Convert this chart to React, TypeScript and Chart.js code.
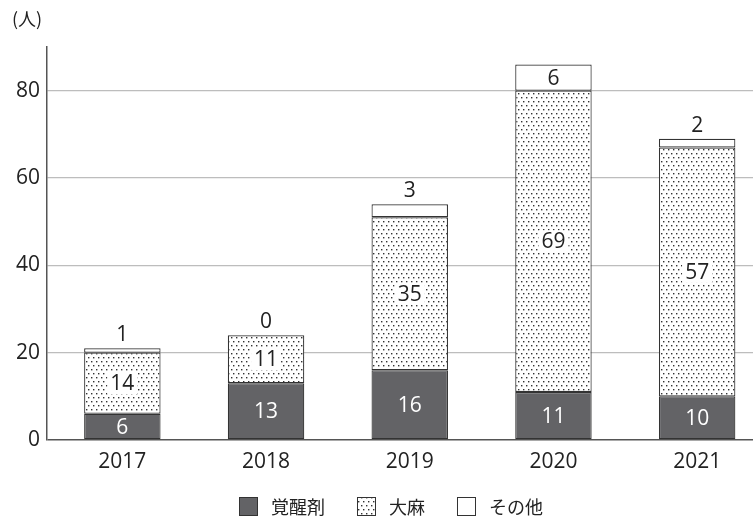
import React, { useEffect, useRef } from "react";
import { Chart, registerables } from "chart.js";

Chart.register(...registerables);

const FONT = "'Noto Sans CJK JP', 'Noto Sans', sans-serif";
const NUM_FONT = "'Open Sans', 'Noto Sans CJK JP', sans-serif";

const years = ["2017", "2018", "2019", "2020", "2021"];
const seriesNames = ["覚醒剤", "大麻", "その他"];
const stimulants = [6, 13, 16, 11, 10];
const cannabis = [14, 11, 35, 69, 57];
const others = [1, 0, 3, 6, 2];
const yTicks = [0, 20, 40, 60, 80];
const yMax = 90;
const unitLabel = "(人)";

function makeDotPattern(): CanvasPattern | string {
  const c = document.createElement("canvas");
  c.width = 10;
  c.height = 8;
  const g = c.getContext("2d");
  if (!g) return "#fff";
  g.fillStyle = "#ffffff";
  g.fillRect(0, 0, 10, 8);
  g.fillStyle = "#333333";
  const pts = [
    [1, 1],
    [6, 1],
    [3, 5],
    [8, 5],
  ];
  pts.forEach(([x, y]) => g.fillRect(x, y, 1.4, 1.4));
  const p = g.createPattern(c, "repeat");
  return p || "#fff";
}

export default function App() {
  const ref = useRef<HTMLCanvasElement | null>(null);

  useEffect(() => {
    const canvas = ref.current;
    if (!canvas) return;
    const dots = makeDotPattern();
    const fills: any[] = ["#636366", dots, "#ffffff"];

    const stretchPlugin = {
      id: "stretch",
      afterLayout(chart: any) {
        const xs = chart.scales.x;
        xs.left = xs.left + 3.5;
        xs.right = xs.left + 718.5;
        xs.width = xs.right - xs.left;
        xs.configure();
        chart.chartArea.right = xs.right;
        chart.chartArea.width = chart.chartArea.right - chart.chartArea.left;
      },
    };

    const labelPlugin = {
      id: "labels",
      afterDatasetsDraw(chart: any) {
        const ctx = chart.ctx;
        ctx.save();
        ctx.font = `21px ${NUM_FONT}`;
        ctx.textAlign = "center";
        ctx.textBaseline = "middle";
        const all = [stimulants, cannabis, others];
        all.forEach((arr, di) => {
          const meta = chart.getDatasetMeta(di);
          meta.data.forEach((bar: any, j: number) => {
            const v = arr[j];
            const txt = String(v);
            const top = Math.min(bar.y, bar.base);
            const h = Math.abs(bar.base - bar.y);
            const cy = top + h / 2;
            if (di === 0) {
              ctx.fillStyle = "#ffffff";
              ctx.fillText(txt, bar.x, cy + 1);
            } else if (di === 1) {
              const w = ctx.measureText(txt).width;
              ctx.fillStyle = "#ffffff";
              ctx.fillRect(bar.x - w / 2 - 3, cy - 11, w + 6, 22);
              ctx.fillStyle = "#222";
              ctx.fillText(txt, bar.x, cy + 1);
            } else {
              ctx.fillStyle = "#222";
              if (h >= 22) {
                ctx.fillText(txt, bar.x, cy + 1);
              } else {
                ctx.fillText(txt, bar.x, top - 13);
              }
            }
          });
        });
        // unit label
        ctx.textAlign = "left";
        ctx.font = `18px ${FONT}`;
        ctx.fillStyle = "#222";
        ctx.fillText(unitLabel, 12, 19);
        // legend
        let x = 239;
        const by = 497;
        const bs = 19;
        seriesNames.forEach((name, i) => {
          ctx.fillStyle = fills[i];
          ctx.fillRect(x, by, bs, bs);
          ctx.strokeStyle = "#333";
          ctx.lineWidth = 1;
          ctx.strokeRect(x + 0.5, by + 0.5, bs - 1, bs - 1);
          ctx.fillStyle = "#222";
          ctx.fillText(name, x + bs + 13, by + bs / 2 + 1);
          x += bs + 13 + ctx.measureText(name).width + 32;
        });
        ctx.restore();
      },
    };

    const mk = (label: string, data: number[], i: number) => ({
      label,
      data,
      backgroundColor: fills[i],
      borderColor: "#333333",
      borderWidth: 1.2,
      borderSkipped: false,
      categoryPercentage: 1,
      barPercentage: 0.532,
    });

    const chart = new Chart(canvas, {
      type: "bar",
      data: {
        labels: years,
        datasets: [
          mk(seriesNames[0], stimulants, 0),
          mk(seriesNames[1], cannabis, 1),
          mk(seriesNames[2], others, 2),
        ],
      },
      options: {
        responsive: false,
        animation: false,
        layout: { padding: { top: 47, bottom: 40, left: 0, right: 0 } },
        plugins: {
          legend: { display: false },
          tooltip: { enabled: false },
        },
        scales: {
          x: {
            stacked: true,
            grid: { display: false, drawTicks: false },
            border: { display: false },
            ticks: {
              font: { family: NUM_FONT, size: 21 },
              color: "#222",
              padding: 9,
            },
            afterFit: (s: any) => {
              s.height = 38;
            },
          },
          y: {
            stacked: true,
            min: 0,
            max: yMax,
            grid: {
              color: (c: any) => (c.tick && c.tick.value === 0 ? "#555" : "#bdbdbd"),
              lineWidth: (c: any) => (c.tick && c.tick.value === 0 ? 1.5 : 1.2),
              drawTicks: false,
            },
            border: { color: "#555", width: 1.5 },
            ticks: {
              font: { family: NUM_FONT, size: 21 },
              color: "#222",
              padding: 7,
              stepSize: 20,
            },
            afterBuildTicks: (s: any) => {
              s.ticks = yTicks.map((v) => ({ value: v }));
            },
            afterFit: (s: any) => {
              s.width = 47;
            },
          },
        },
      },
      plugins: [stretchPlugin, labelPlugin],
    } as any);

    return () => chart.destroy();
  }, []);

  return (
    <div style={{ position: "fixed", left: 0, top: 0, width: 753, height: 518, background: "#fff" }}>
      <canvas ref={ref} width={753} height={518} />
    </div>
  );
}
